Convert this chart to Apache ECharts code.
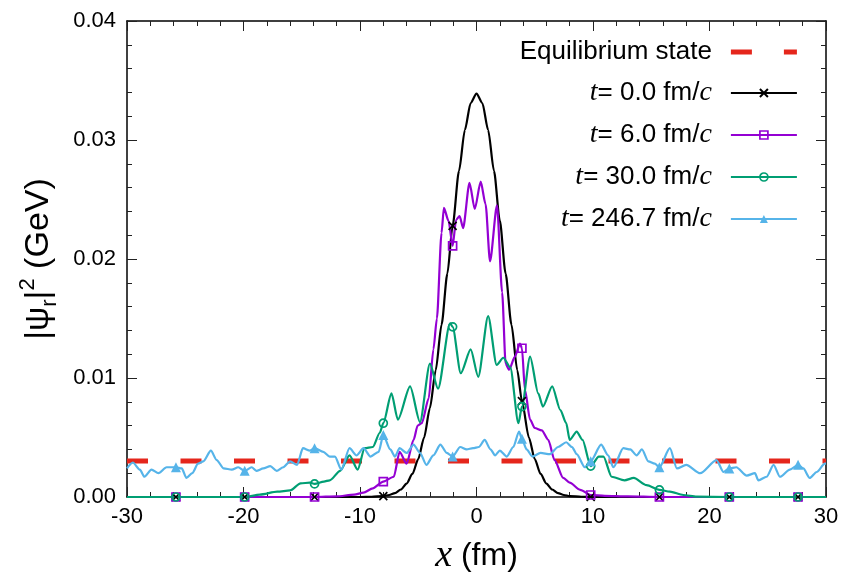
<!DOCTYPE html>
<html>
<head>
<meta charset="utf-8">
<script src="https://cdn.jsdelivr.net/npm/echarts@6/dist/echarts.min.js"></script>
<style>
html,body{margin:0;padding:0;background:#fff;}
#chart{width:844px;height:573px;}
</style>
</head>
<body>
<div id="chart"></div>
<script>
// ---- data ----
const seriesNames = ['Equilibrium state', 't= 0.0 fm/c', 't= 6.0 fm/c', 't= 30.0 fm/c', 't= 246.7 fm/c'];
const markerX = [-25.8, -19.9, -13.9, -8.0, -2.05, 3.9, 9.8, 15.7, 21.7, 27.6];

const eqX = [-30, 30];
const eqY = [0.00303, 0.00303];

const blackX = [-30,-25.8,-19.9,-13.9,-10,-9,-8,-7.5,-7,-6.5,-6,-5.5,-5,-4.5,-4,-3.5,-3,-2.5,-2.05,-1.5,-1,-0.5,0,0.5,1,1.5,2,2.5,3,3.5,3.9,4.5,5,5.5,6,6.5,7,7.5,8,9,9.8,15.7,21.7,27.6,30];
const blackY = [0,0,0,0,0,0.00002,0.00008,0.00017,0.00033,0.00063,0.00113,0.00194,0.00319,0.005,0.00747,0.01065,0.01448,0.01878,0.02279,0.02741,0.03084,0.03311,0.0339,0.03311,0.03084,0.02741,0.02323,0.01878,0.01448,0.01065,0.00805,0.005,0.00319,0.00194,0.00113,0.00063,0.00033,0.00017,0.00008,0.00002,0,0,0,0,0];

const purpleX = [-30,-25.8,-19.9,-13.9,-12,-10.5,-9.7,-8.9,-8.0,-7.1,-6.6,-6.0,-5.4,-5.05,-4.7,-4.1,-3.7,-3.4,-3.0,-2.8,-2.4,-2.05,-1.75,-1.45,-1.15,-0.6,-0.15,0.36,0.78,1.16,1.76,2.2,2.5,2.8,3.3,3.73,3.9,4.16,4.6,5.0,5.6,6.16,6.7,7.45,8.0,8.9,9.8,11,13,15.7,21.7,27.6,30];
const purpleY = [0,0,0,0,0.00005,0.0002,0.00036,0.00073,0.0013,0.0017,0.0038,0.0028,0.0048,0.006,0.0062,0.0083,0.0124,0.015,0.0222,0.0243,0.0232,0.0211,0.0233,0.0236,0.0226,0.0264,0.0242,0.0265,0.0246,0.0198,0.0245,0.0172,0.0112,0.0107,0.0118,0.0129,0.0125,0.009,0.0065,0.0058,0.0056,0.0048,0.0031,0.0016,0.0012,0.0006,0.00017,0.0001,0.00005,0,0,0,0];

const greenX = [-30,-25.8,-19.9,-18.6,-17.1,-16.0,-15.1,-14.3,-13.9,-13.1,-12.6,-11.7,-10.9,-10.2,-9.6,-8.9,-8.3,-8.0,-7.3,-6.75,-5.7,-4.85,-4.0,-3.3,-2.27,-2.05,-1.35,-0.5,0.15,1.0,1.73,2.3,2.9,3.6,3.9,4.6,5.3,5.7,6.5,7.2,7.7,8.0,8.6,9.1,9.8,10.5,10.9,11.6,12.7,13.5,14.6,15.7,16.6,17.75,18.9,21.7,27.6,30];
const greenY = [0,0,0,0.0002,0.00045,0.00055,0.00115,0.0012,0.0011,0.0013,0.0014,0.0022,0.0035,0.0023,0.0041,0.0042,0.0054,0.0062,0.0087,0.0065,0.0093,0.0063,0.0112,0.0091,0.0146,0.0143,0.0104,0.0124,0.0101,0.0152,0.0111,0.0117,0.0109,0.0062,0.0076,0.0118,0.0087,0.0076,0.0093,0.0073,0.0062,0.0048,0.0055,0.0048,0.0026,0.0034,0.0034,0.0017,0.0014,0.0016,0.001,0.0006,0.00045,0.00017,0.00003,0,0,0];

const blueX = [-30,-29.5,-28.9,-28.5,-27.9,-27.3,-26.6,-25.8,-25.3,-24.9,-24.4,-23.9,-23.45,-22.8,-22.3,-21.7,-21.0,-20.45,-19.9,-19.3,-18.9,-18.3,-17.7,-17.15,-16.6,-16.0,-15.4,-14.9,-14.3,-13.9,-13.15,-12.6,-12.15,-11.6,-10.9,-10.3,-9.7,-9.1,-8.4,-8.0,-7.4,-7.0,-6.6,-6.0,-5.4,-4.85,-4.3,-3.7,-3.1,-2.55,-2.05,-1.4,-0.85,-0.3,0.2,0.7,1.2,1.6,2.0,2.6,3.16,3.65,3.9,4.3,4.8,5.5,6.3,7.0,7.7,8.2,8.6,9.3,9.8,10.7,11.3,11.75,12.6,13.2,13.75,14.2,14.75,15.3,15.7,16.6,17.2,18.0,19.2,20.6,21.2,21.7,22.3,23.2,23.9,24.2,24.9,25.5,26.05,26.9,27.6,28.05,28.6,29.2,29.9,30];
const blueY = [0.0024,0.0029,0.0023,0.0017,0.0023,0.002,0.0025,0.0025,0.0024,0.0016,0.002,0.0028,0.003,0.0039,0.0031,0.0024,0.0023,0.0025,0.0022,0.0025,0.0022,0.0024,0.0026,0.0022,0.0025,0.003,0.0027,0.0041,0.0039,0.0041,0.0038,0.0034,0.0034,0.0023,0.0041,0.0035,0.0041,0.0034,0.0038,0.0052,0.004,0.0034,0.0041,0.0037,0.0044,0.0037,0.0027,0.0035,0.0044,0.0037,0.0034,0.0042,0.004,0.0041,0.0042,0.0048,0.004,0.0035,0.0039,0.0034,0.0042,0.0055,0.0049,0.004,0.0034,0.0037,0.0036,0.0042,0.0046,0.0042,0.0036,0.0025,0.003,0.0044,0.0035,0.0025,0.0041,0.004,0.0035,0.004,0.003,0.0028,0.0025,0.0041,0.0024,0.0027,0.002,0.0031,0.0021,0.0024,0.0025,0.0018,0.002,0.0014,0.0017,0.0027,0.0017,0.0023,0.0027,0.0024,0.0016,0.0021,0.0028,0.0028];

// ---- styles ----
const RED = '#e5261c', BLACK = '#000000', PURPLE = '#9400d3', GREEN = '#009e73', BLUE = '#56b4e9';
const SANS = '"Liberation Sans", Arial, Helvetica, sans-serif';
const SERIF = '"Liberation Serif", "Times New Roman", serif';
const CROSS = 'path://M0,0L10,10M0,10L10,0';
const LW = 2.2;

function build(xs, ys) {
  return xs.map((x, i) => markerX.indexOf(x) >= 0 ? { value: [x, ys[i]] } : { value: [x, ys[i]], symbol: 'none' });
}

function curve(name, xs, ys, color, symbol, size, filled) {
  return {
    name: name, type: 'line', data: build(xs, ys),
    xAxisIndex: 0, yAxisIndex: 0,
    symbol: symbol, symbolSize: size, showSymbol: true,
    smooth: 0.25, smoothMonotone: 'x',
    lineStyle: { color: color, width: LW },
    itemStyle: filled ? { color: color } : { color: 'rgba(0,0,0,0)', borderColor: color, borderWidth: 1.7 },
    emphasis: { disabled: true }, z: 2
  };
}

const chart = echarts.init(document.getElementById('chart'), null, { renderer: 'canvas' });

const axisCommon = {
  type: 'value', axisLine: { show: true, onZero: false, lineStyle: { color: '#000', width: 1.5 } },
  axisTick: { show: true, inside: true, length: 10, lineStyle: { color: '#222', width: 1 } },
  minorTick: { show: true, splitNumber: 5, length: 5, lineStyle: { color: '#222', width: 1 } },
  splitLine: { show: false }, minorSplitLine: { show: false }
};

function legendLabel(name) {
  if (name.charAt(0) === 't') {
    return '{i|t}' + name.slice(1, name.length - 1) + '{i|c}';
  }
  return name;
}

const option = {
  animation: false,
  backgroundColor: '#fff',
  grid: { left: 127, right: 18, top: 21, bottom: 76, containLabel: false, outerBoundsMode: 'none' },
  xAxis: [
    Object.assign({}, axisCommon, {
      min: -30, max: 30, interval: 10, position: 'bottom',
      axisLabel: { show: true, margin: 9, color: '#000', fontSize: 22, fontFamily: SANS },
      name: '{x|x} (fm)', nameLocation: 'middle', nameGap: 40,
      nameTextStyle: { color: '#000', fontSize: 32, fontFamily: SANS,
        rich: { x: { fontFamily: SERIF, fontStyle: 'italic', fontSize: 38, color: '#000' } } }
    }),
    Object.assign({}, axisCommon, { min: -30, max: 30, interval: 10, position: 'top', axisLabel: { show: false } })
  ],
  yAxis: [
    Object.assign({}, axisCommon, {
      min: 0, max: 0.04, interval: 0.01, position: 'left',
      axisLabel: { show: true, margin: 11, color: '#000', fontSize: 22, fontFamily: SANS,
        formatter: v => v.toFixed(2) },
      name: '{a||ψ}{s|r}{a||}{p|2}{a| (GeV)}', nameLocation: 'middle', nameGap: 66, nameRotate: 90,
      nameTextStyle: { color: '#000', fontSize: 34, fontFamily: SANS,
        rich: {
          a: { fontSize: 34, fontFamily: SANS, color: '#000', lineHeight: 44 },
          s: { fontSize: 22, fontFamily: SANS, color: '#000', lineHeight: 28, verticalAlign: 'bottom' },
          p: { fontSize: 22, fontFamily: SANS, color: '#000', lineHeight: 28, verticalAlign: 'top' }
        } }
    }),
    Object.assign({}, axisCommon, { min: 0, max: 0.04, interval: 0.01, position: 'right', axisLabel: { show: false } })
  ],
  legend: {
    orient: 'vertical', right: 41, top: 34, align: 'right', padding: 5,
    itemWidth: 66, itemHeight: 10, itemGap: 14,
    selectedMode: false,
    formatter: legendLabel,
    textStyle: { color: '#000', fontSize: 26, fontFamily: SANS, lineHeight: 26, padding: [0, 14, 0, 0],
      rich: { i: { fontFamily: SERIF, fontStyle: 'italic', fontSize: 28, color: '#000' } } },
    data: [
      { name: seriesNames[0], icon: 'path://M0,0H21V5H0Z M53,0H66V5H53Z', itemStyle: { color: RED, borderWidth: 0 } },
      { name: seriesNames[1], itemStyle: { color: 'rgba(0,0,0,0)', borderColor: BLACK, borderWidth: 2 }, lineStyle: { color: BLACK, width: LW, type: 'solid' } },
      { name: seriesNames[2], itemStyle: { color: 'rgba(0,0,0,0)', borderColor: PURPLE, borderWidth: 1.7 }, lineStyle: { color: PURPLE, width: LW, type: 'solid' } },
      { name: seriesNames[3], itemStyle: { color: 'rgba(0,0,0,0)', borderColor: GREEN, borderWidth: 1.7 }, lineStyle: { color: GREEN, width: LW, type: 'solid' } },
      { name: seriesNames[4], itemStyle: { color: BLUE, borderWidth: 0 }, lineStyle: { color: BLUE, width: LW, type: 'solid' } }
    ]
  },
  series: [
    {
      name: seriesNames[0], type: 'line', xAxisIndex: 0, yAxisIndex: 0,
      data: eqX.map((x, i) => [x, eqY[i]]), symbol: 'none',
      lineStyle: { color: RED, width: 5, type: [21, 32.5] }, itemStyle: { color: RED },
      emphasis: { disabled: true }, z: 2
    },
    curve(seriesNames[1], blackX, blackY, BLACK, CROSS, 8, false),
    curve(seriesNames[2], purpleX, purpleY, PURPLE, 'rect', 8, false),
    curve(seriesNames[3], greenX, greenY, GREEN, 'circle', 8, false),
    curve(seriesNames[4], blueX, blueY, BLUE, 'triangle', 10, true)
  ]
};
chart.setOption(option);
</script>
</body>
</html>
